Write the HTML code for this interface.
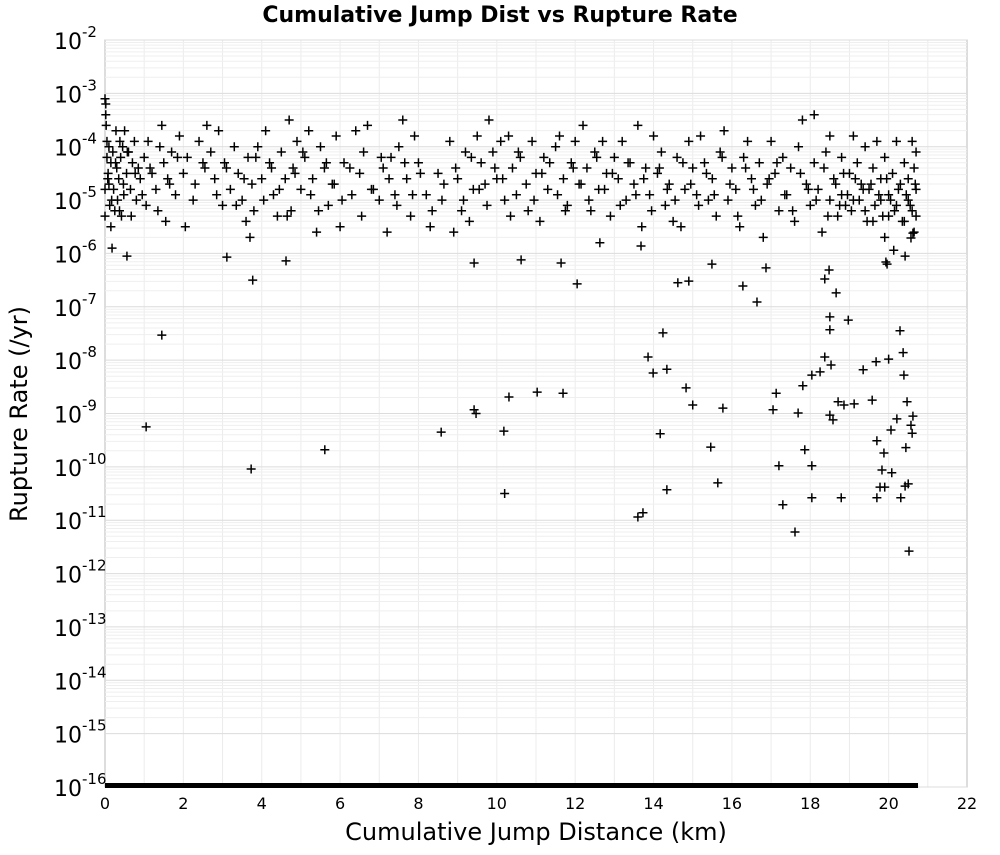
<!DOCTYPE html>
<html><head><meta charset="utf-8"><style>
body{margin:0;background:#fff;}
svg text{font-family:"DejaVu Sans","Liberation Sans",sans-serif;}
</style></head><body>
<svg id="chart" width="1000" height="850" xmlns="http://www.w3.org/2000/svg">
<text x="500" y="22" text-anchor="middle" font-size="22" font-weight="bold">Cumulative Jump Dist vs Rupture Rate</text>
<rect x="105" y="40" width="862" height="747" fill="#fff" stroke="#bbb"/>
<g id="grid"></g>
<g id="ticks"></g>
<g id="points"></g>
<text x="536" y="840" text-anchor="middle" font-size="24">Cumulative Jump Distance (km)</text>
<text transform="translate(27,414) rotate(-90)" text-anchor="middle" font-size="24">Rupture Rate (/yr)</text>
</svg>
<script>
const xTicks=[0,2,4,6,8,10,12,14,16,18,20,22];
const yDecades=[-2,-3,-4,-5,-6,-7,-8,-9,-10,-11,-12,-13,-14,-15,-16];
const floorMaxX=20.75;
const jumpDist=[0.02,0.02,0.03,0.05,0.05,0.08,0.1,0.1,0.12,0.15,0.15,0.18,0.2,0.22,0.25,0.28,0.3,0.32,0.35,0.38,0.4,0.42,0.45,0.48,0.5,0.55,0.6,0.65,0.7,0.75,0.8,0.85,0.9,1.0,1.05,1.1,1.2,1.3,1.4,1.45,1.5,1.55,1.6,1.7,1.8,1.9,2.0,2.05,2.1,2.3,2.4,2.5,2.6,2.7,2.8,2.9,3.0,3.1,3.2,3.3,3.4,3.5,3.6,3.65,3.7,3.75,3.8,3.9,4.0,4.1,4.2,4.3,4.4,4.5,4.6,4.7,4.75,4.8,4.9,5.0,5.1,5.2,5.3,5.4,5.5,5.6,5.7,5.8,5.9,6.0,6.1,6.3,6.4,6.5,6.6,6.7,6.8,7.0,7.1,7.2,7.3,7.4,7.5,7.6,7.7,7.8,7.9,8.0,8.2,8.3,8.5,8.6,8.8,8.9,9.0,9.1,9.2,9.3,9.4,9.5,9.6,9.7,9.8,9.9,10.0,10.1,10.2,10.3,10.4,10.5,10.6,10.8,10.9,11.0,11.1,11.2,11.3,11.5,11.6,11.7,11.8,11.9,12.0,12.1,12.2,12.3,12.4,12.5,12.6,12.7,12.8,12.9,13.0,13.1,13.2,13.3,13.4,13.5,13.6,13.7,13.8,13.9,14.0,14.1,14.2,14.3,14.4,14.5,14.6,14.7,14.8,14.9,15.0,15.1,15.2,15.3,15.4,15.5,15.6,15.7,15.8,15.9,16.0,16.1,16.2,16.3,16.4,16.5,16.6,16.7,16.8,16.9,17.0,17.1,17.2,17.3,17.4,17.5,17.6,17.7,17.8,17.9,18.0,18.1,18.2,18.3,18.4,18.5,18.5,18.6,18.7,18.8,18.8,18.9,19.0,19.1,19.1,19.2,19.3,19.4,19.4,19.5,19.6,19.6,19.7,19.8,19.8,19.9,19.9,20.0,20.0,20.1,20.2,20.2,20.3,20.4,20.4,20.5,20.5,20.6,20.6,20.65,20.65,20.7,20.7,20.7,0.0,0.0,0.0,18.1,
0.07,0.17,0.27,0.37,0.47,0.57,0.67,0.77,0.95,1.15,1.35,1.65,1.85,2.25,2.55,2.85,3.05,3.35,3.55,3.85,4.05,4.25,4.45,4.65,4.85,5.05,5.25,5.45,5.65,5.85,6.05,6.25,6.55,6.85,7.05,7.25,7.45,7.65,7.85,8.05,8.35,8.65,8.95,9.15,9.35,9.55,9.75,9.95,10.15,10.35,10.55,10.75,10.95,11.15,11.35,11.55,11.75,11.95,12.15,12.35,12.55,12.75,12.95,13.15,13.35,13.55,13.75,13.95,14.15,14.35,14.55,14.75,14.95,15.15,15.35,15.55,15.75,15.95,16.15,16.35,16.55,16.75,16.95,17.15,17.35,17.55,17.75,17.95,18.15,18.35,18.45,18.65,18.75,18.85,18.95,19.05,19.15,19.25,19.35,19.45,19.55,19.65,19.75,19.85,19.95,20.05,20.15,20.25,20.35,20.45,20.55,20.68,
1.45,1.05,3.73,3.77,3.11,4.62,0.56,5.61,8.58,9.42,9.47,10.18,10.31,10.2,11.03,11.69,9.42,10.62,11.64,12.05,13.6,13.73,13.86,13.99,14.24,14.34,14.17,14.34,14.83,15.0,14.62,14.9,15.46,15.64,15.77,15.49,16.28,16.64,16.87,17.05,17.13,17.2,17.3,17.61,17.69,17.86,17.81,18.04,18.04,18.04,18.25,18.37,18.5,18.5,18.58,18.53,18.5,18.37,18.48,18.66,18.71,18.86,18.97,18.79,19.12,19.35,19.58,19.68,19.7,19.7,19.78,19.83,19.88,19.9,20.0,20.06,20.08,20.21,20.29,20.31,20.37,20.39,20.42,20.5,20.47,20.52,20.44,20.57,20.62,20.6,20.42,19.93,19.96,20.13,20.57,20.62,13.68,12.63];
const log10Rate=[-3.2,-3.4,-3.6,-3.9,-4.2,-4.5,-4.0,-4.7,-5.1,-4.3,-5.5,-5.9,-4.1,-4.8,-5.2,-3.7,-4.4,-5.0,-4.6,-3.9,-4.2,-5.3,-4.0,-4.9,-3.7,-4.5,-4.1,-4.8,-4.3,-3.9,-5.0,-4.4,-4.6,-4.2,-5.1,-3.9,-4.5,-4.8,-4.0,-3.6,-4.3,-5.4,-4.6,-4.1,-4.9,-3.8,-4.5,-5.5,-4.2,-4.7,-3.9,-4.3,-3.6,-4.1,-4.6,-3.7,-5.1,-4.4,-4.8,-4.0,-4.5,-5.0,-5.4,-4.2,-5.7,-4.7,-5.2,-4.0,-4.6,-3.7,-4.3,-4.9,-5.3,-4.1,-4.6,-3.5,-5.2,-4.4,-3.9,-4.8,-4.2,-3.7,-4.6,-5.6,-4.0,-4.4,-5.1,-4.7,-3.8,-5.5,-4.3,-4.9,-3.7,-4.5,-4.1,-3.6,-4.8,-5.0,-4.4,-5.6,-4.2,-4.9,-4.0,-3.5,-4.6,-5.3,-3.8,-4.3,-4.9,-5.5,-4.5,-5.0,-3.9,-5.6,-4.6,-5.2,-4.1,-5.4,-4.8,-3.8,-4.3,-4.7,-3.5,-4.1,-4.6,-3.9,-5.0,-3.8,-4.4,-4.9,-4.2,-5.2,-3.9,-4.5,-5.4,-4.2,-4.8,-4.0,-3.8,-4.6,-5.1,-4.3,-3.9,-4.7,-3.6,-4.4,-5.2,-4.1,-4.8,-3.9,-4.5,-5.3,-4.2,-4.6,-3.9,-5.0,-4.3,-4.7,-3.6,-5.5,-4.4,-4.9,-3.8,-4.5,-4.1,-5.1,-4.7,-5.4,-4.2,-5.5,-4.8,-3.9,-4.4,-4.9,-3.8,-4.3,-5.0,-4.6,-5.3,-4.1,-3.7,-5.0,-4.4,-4.8,-5.5,-4.2,-3.9,-4.6,-5.1,-4.3,-5.7,-4.7,-3.9,-4.5,-5.2,-4.2,-4.9,-4.4,-5.4,-4.0,-3.5,-4.7,-5.1,-4.3,-4.8,-5.6,-4.1,-5.0,-3.8,-4.6,-5.3,-4.2,-4.9,-5.1,-4.5,-3.8,-5.0,-4.3,-4.7,-5.2,-4.0,-4.8,-5.4,-4.4,-3.9,-5.0,-4.6,-5.7,-4.2,-4.9,-5.3,-4.5,-5.1,-3.9,-4.7,-5.4,-4.3,-5.0,-4.6,-3.9,-5.2,-4.4,-5.6,-4.1,-4.8,-5.3,-3.1,-4.8,-5.3,-3.4,
-4.6,-5.0,-4.3,-5.2,-4.7,-4.1,-5.3,-4.5,-4.9,-4.4,-5.2,-4.7,-4.2,-5.0,-4.4,-4.9,-4.3,-5.1,-4.6,-4.2,-5.0,-4.4,-4.8,-5.3,-4.5,-4.1,-4.9,-5.2,-4.3,-4.7,-5.0,-4.4,-5.3,-4.8,-4.2,-4.6,-5.1,-4.3,-4.9,-4.5,-5.2,-4.7,-4.4,-5.0,-4.2,-4.8,-5.1,-4.4,-4.6,-5.3,-4.1,-4.7,-5.0,-4.5,-4.3,-4.9,-5.2,-4.4,-4.7,-5.0,-4.2,-4.8,-4.5,-5.1,-4.3,-4.9,-4.6,-5.2,-4.4,-4.8,-5.0,-4.3,-4.7,-5.1,-4.5,-4.9,-4.2,-4.7,-5.3,-4.4,-4.8,-5.0,-4.6,-4.3,-4.9,-5.2,-4.5,-4.8,-5.0,-4.4,-5.3,-4.7,-5.1,-4.5,-4.9,-5.2,-4.6,-5.0,-4.8,-5.4,-4.7,-5.1,-4.9,-5.3,-4.6,-5.0,-5.2,-4.8,-5.4,-4.9,-5.1,-4.7,
-7.53,-9.25,-10.04,-6.5,-6.07,-6.14,-6.05,-9.68,-9.35,-8.93,-9.0,-9.33,-8.69,-10.5,-8.6,-8.62,-6.18,-6.12,-6.18,-6.57,-10.94,-10.86,-7.94,-8.24,-7.49,-8.17,-9.38,-10.43,-8.52,-8.84,-6.55,-6.52,-9.63,-10.3,-8.9,-6.2,-6.61,-6.91,-6.27,-8.93,-8.62,-9.98,-10.71,-11.22,-8.99,-9.68,-8.48,-8.28,-10.58,-9.98,-8.22,-7.94,-7.43,-9.03,-9.12,-8.09,-7.19,-6.48,-6.31,-6.74,-8.78,-8.84,-7.25,-10.58,-8.82,-8.18,-8.75,-8.03,-9.51,-10.58,-10.38,-10.06,-9.74,-10.38,-7.98,-9.31,-10.11,-9.1,-7.45,-10.58,-7.86,-8.28,-10.36,-10.32,-8.78,-11.58,-9.64,-9.22,-9.05,-9.37,-6.05,-6.16,-6.2,-5.94,-5.71,-5.62,-5.86,-5.8];
const X0=105,X1=967,Y0=40,Y1=787;
function xs(v){return X0+(v-0)/(22-0)*(X1-X0);}
function ys(lg){return Y0+(-2-lg)/14*(Y1-Y0);}
const NS="http://www.w3.org/2000/svg";
const grid=document.getElementById('grid'),ticks=document.getElementById('ticks'),pts=document.getElementById('points');
function mk(tag,attrs,parent){const e=document.createElementNS(NS,tag);for(const k in attrs)e.setAttribute(k,attrs[k]);parent.appendChild(e);return e;}
for(let v=1;v<22;v++){
  const l=mk('line',{x1:xs(v),x2:xs(v),y1:Y0,y2:Y1,stroke:'#ececec','stroke-width':1},grid);
  
  
}
yDecades.forEach(d=>{
  for(let m=1;m<10;m++){
    if(d===-16&&m>1)continue;
    const lg=d+Math.log10(m);
    if(lg>-2)continue;
    const l=mk('line',{x1:X0,x2:X1,y1:ys(lg),y2:ys(lg),stroke:m===1?'#dcdcdc':'#efefef','stroke-width':1},grid);
    
    
  }
  const t=mk('text',{x:82,y:ys(d)+9,'text-anchor':'end','font-size':22},ticks);
  
  
  t.textContent='10';
  const s=mk('text',{x:82,y:ys(d)-3,'text-anchor':'start','font-size':15},ticks);
  
  
  s.textContent=String(d);
});
xTicks.forEach(v=>{
  const t=mk('text',{x:xs(v),y:809,'text-anchor':'middle','font-size':16},ticks);
  
  
  t.textContent=String(v);
});
const fl=mk('rect',{x:X0,y:Y1-4,width:xs(floorMaxX)-X0,height:5,fill:'#000'},pts);


for(let i=0;i<jumpDist.length;i++){
  const cx=xs(jumpDist[i]),cy=ys(log10Rate[i]);
  const p=mk('path',{d:`M${cx-4.5} ${cy}H${cx+4.5}M${cx} ${cy-4.5}V${cy+4.5}`,stroke:'#000','stroke-width':1.5,fill:'none'},pts);
  
  
}
</script>
</body></html>
